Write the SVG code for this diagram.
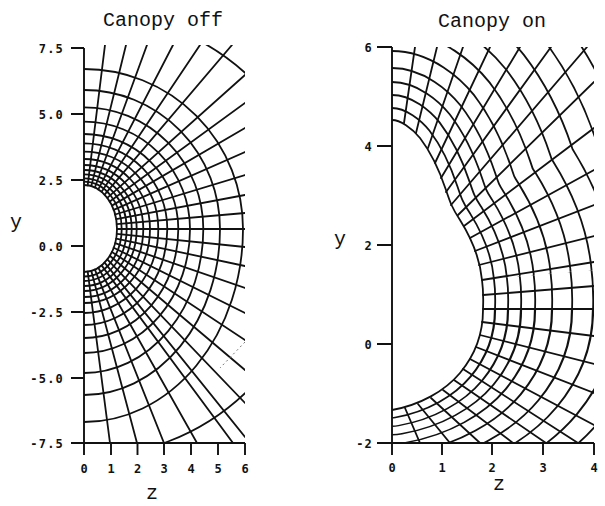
<svg xmlns="http://www.w3.org/2000/svg" width="605" height="506" viewBox="0 0 605 506">
<style>
.m{fill:none;stroke:#111;stroke-width:1.8;stroke-linecap:round;stroke-linejoin:round}
.ax{fill:none;stroke:#111;stroke-width:1.9}
.t{font-family:"Liberation Mono","DejaVu Sans Mono",monospace;font-size:20px;fill:#111}
.n{font-family:"DejaVu Sans Mono","Liberation Mono",monospace;font-size:12px;font-weight:bold;letter-spacing:1.2px;fill:#111}
.nx{font-family:"DejaVu Sans Mono","Liberation Mono",monospace;font-size:12px;font-weight:bold;fill:#111}
</style>
<defs>
<clipPath id="cL"><rect x="84" y="45" width="161" height="398"/></clipPath>
<clipPath id="cR"><rect x="392" y="47" width="202" height="396"/></clipPath>
<clipPath id="cU"><path clip-rule="evenodd" d="M392,47H594V310H392Z M392,120 C400,120 412,128 420,138 C430,151 440,172 446,190 C450,202 452,208 460,220 C470,236 480,258 482,280 C484,295 483,305 483,310 H392Z"/></clipPath>
<clipPath id="cD"><path clip-rule="evenodd" d="M392,310H594V443H392Z M483,310 C483,335 475,355 460,373 C445,391 420,405 392,410 V310Z"/></clipPath>
<path id="bR" d="M392,120 C400,120 412,128 420,138 C430,151 440,172 446,190 C450,202 452,208 460,220 C470,236 480,258 482,280 C484,295 483,305 483,310 C483,335 475,355 460,373 C445,391 420,405 392,410"/>
<path id="bP" d="M482,263.8 C484,279.2 483,294.6 483,310 C483,348.5 475,379.2 460,406.9 C445,434.6 420,456.2 392,463.8"/>
<mask id="mU" maskUnits="userSpaceOnUse" x="380" y="0" width="230" height="506">
<g fill="none" stroke-linecap="round" stroke-linejoin="round">
<use href="#bR" stroke="#fff" stroke-width="371.8"/><use href="#bR" stroke="#000" stroke-width="368.2"/>
<use href="#bR" stroke="#fff" stroke-width="317.8"/><use href="#bR" stroke="#000" stroke-width="314.2"/>
<use href="#bR" stroke="#fff" stroke-width="267.8"/><use href="#bR" stroke="#000" stroke-width="264.2"/>
<use href="#bR" stroke="#fff" stroke-width="221.8"/><use href="#bR" stroke="#000" stroke-width="218.2"/>
<use href="#bR" stroke="#fff" stroke-width="179.8"/><use href="#bR" stroke="#000" stroke-width="176.2"/>
<use href="#bR" stroke="#fff" stroke-width="139.8"/><use href="#bR" stroke="#000" stroke-width="136.2"/>
<use href="#bR" stroke="#fff" stroke-width="105.8"/><use href="#bR" stroke="#000" stroke-width="102.2"/>
<use href="#bR" stroke="#fff" stroke-width="77.8"/><use href="#bR" stroke="#000" stroke-width="74.2"/>
<use href="#bR" stroke="#fff" stroke-width="51.8"/><use href="#bR" stroke="#000" stroke-width="48.2"/>
<use href="#bR" stroke="#fff" stroke-width="25.8"/><use href="#bR" stroke="#000" stroke-width="22.2"/>
</g>
</mask>
<mask id="mD" maskUnits="userSpaceOnUse" x="380" y="0" width="230" height="506">
<g fill="none" stroke-linecap="round" stroke-linejoin="round" transform="matrix(1,0,0,0.65,0,108.5)">
<use href="#bP" stroke="#fff" stroke-width="318.2"/><use href="#bP" stroke="#000" stroke-width="313.8"/>
<use href="#bP" stroke="#fff" stroke-width="268.2"/><use href="#bP" stroke="#000" stroke-width="263.8"/>
<use href="#bP" stroke="#fff" stroke-width="222.2"/><use href="#bP" stroke="#000" stroke-width="217.8"/>
<use href="#bP" stroke="#fff" stroke-width="180.2"/><use href="#bP" stroke="#000" stroke-width="175.8"/>
<use href="#bP" stroke="#fff" stroke-width="140.2"/><use href="#bP" stroke="#000" stroke-width="135.8"/>
<use href="#bP" stroke="#fff" stroke-width="106.2"/><use href="#bP" stroke="#000" stroke-width="101.8"/>
<use href="#bP" stroke="#fff" stroke-width="78.2"/><use href="#bP" stroke="#000" stroke-width="73.8"/>
<use href="#bP" stroke="#fff" stroke-width="52.2"/><use href="#bP" stroke="#000" stroke-width="47.8"/>
<use href="#bP" stroke="#fff" stroke-width="26.2"/><use href="#bP" stroke="#000" stroke-width="21.8"/>
</g>
</mask>
</defs>
<rect width="605" height="506" fill="#fff"/>

<g id="plot-canopy-off">
<text class="t" x="163" y="26" text-anchor="middle">Canopy off</text>
<text class="t" x="16" y="228" text-anchor="middle">y</text>
<text class="t" x="152" y="499" text-anchor="middle">z</text>
<path class="ax" d="M84,48V443H245 M71,48H84 M71,114H84 M71,180H84 M71,246H84 M71,312H84 M71,378H84 M71,443H84 M84,443V455 M111,443V455 M137.5,443V455 M164,443V455 M191,443V455 M218,443V455 M245,443V455"/>
<g class="n" text-anchor="end">
<text x="64" y="52.5">7.5</text>
<text x="64" y="118.5">5.0</text>
<text x="64" y="184.5">2.5</text>
<text x="64" y="250.5">0.0</text>
<text x="64" y="316.5">-2.5</text>
<text x="64" y="382.5">-5.0</text>
<text x="64" y="447.5">-7.5</text>
</g>
<g class="nx" text-anchor="middle">
<text x="84" y="473">0</text><text x="111" y="473">1</text><text x="137.5" y="473">2</text><text x="164" y="473">3</text><text x="191" y="473">4</text><text x="218" y="473">5</text><text x="245" y="473">6</text>
</g>
<g clip-path="url(#cL)">
<path class="m" d="M84,185A33,44 0 0 1 117,229A33,43 0 0 1 84,272 M84,181.7A37.7,47.3 0 0 1 121.7,229A37.7,47.5 0 0 1 84,276.5 M84,178.3A42.7,50.7 0 0 1 126.7,229A42.7,52 0 0 1 84,281 M84,174.3A47.7,54.7 0 0 1 131.7,229A47.7,57 0 0 1 84,286 M84,170A52.7,59 0 0 1 136.7,229A52.7,62 0 0 1 84,291 M84,165A59.3,64 0 0 1 143.3,229A59.3,68 0 0 1 84,297 M84,159A66,70 0 0 1 150,229A66,74 0 0 1 84,303 M84,151.7A74.3,77.3 0 0 1 158.3,229A74.3,84 0 0 1 84,313 M84,143.3A83.3,85.7 0 0 1 167.3,229A83.3,96 0 0 1 84,325 M84,134A94.3,95 0 0 1 178.3,229A94.3,109 0 0 1 84,338 M84,121.7A106,107.3 0 0 1 190,229A106,124 0 0 1 84,353 M84,107.3A119.3,121.7 0 0 1 203.3,229A119.3,144 0 0 1 84,373 M84,90A136,139 0 0 1 220,229A136,166 0 0 1 84,395 M84,69A159,160 0 0 1 243,229A159,193 0 0 1 84,422 M84,12A232,217 0 0 1 316,229A232,228 0 0 1 84,457"/>
<path class="m" d="M87.7,185.3L105,45 M91.3,186.1L126,45 M94.9,187.5L147,45 M98.3,189.4L173,45 M101.6,191.7L200,45 M104.6,194.6L232,45 M107.3,197.9L245,75 M109.8,201.6L245,103 M111.9,205.6L245,128 M113.7,209.9L245,152 M115.1,214.5L245,175 M116.2,219.2L245,195 M116.8,224.1L245,213 M117,229L245,229 M116.8,233.8L245,247 M116.2,238.6L245,266 M115.1,243.2L245,288 M113.7,247.7L245,313 M111.9,251.9L245,340 M109.8,255.8L245,370 M107.3,259.4L245,403 M104.6,262.6L245,437 M101.6,265.4L233,443 M98.3,267.7L197,443 M94.9,269.6L164,443 M91.3,270.9L137,443 M87.7,271.7L110,443"/>
<path d="M245,342L220,368" fill="none" stroke="#777" stroke-width="1" stroke-dasharray="2 3"/>
</g>
</g>

<g id="plot-canopy-on">
<text class="t" x="492" y="27" text-anchor="middle">Canopy on</text>
<text class="t" x="340" y="245" text-anchor="middle">y</text>
<text class="t" x="499" y="490" text-anchor="middle">z</text>
<path class="ax" d="M392,47V443H594 M377,47H392 M377,146H392 M377,245H392 M377,344H392 M377,443H392 M392,443V455 M442,443V455 M492,443V455 M543,443V455 M594,443V455"/>
<g class="n" text-anchor="end">
<text x="373" y="51.5">6</text>
<text x="373" y="150.5">4</text>
<text x="373" y="249.5">2</text>
<text x="373" y="348.5">0</text>
<text x="373" y="447.5">-2</text>
</g>
<g class="nx" text-anchor="middle">
<text x="392" y="472">0</text><text x="442" y="472">1</text><text x="492" y="472">2</text><text x="543" y="472">3</text><text x="594" y="472">4</text>
</g>
<rect x="392" y="47" width="202" height="263" fill="#111" mask="url(#mU)" clip-path="url(#cU)"/>
<rect x="392" y="310" width="202" height="133" fill="#111" mask="url(#mD)" clip-path="url(#cD)"/>
<g clip-path="url(#cR)">
<use href="#bR" class="m"/>
<path class="m" d="M404,123L415,47 M416,133L437,47 M428,148L463,47 M435,163L490,47 M441,178L520,47 M446,192L551,47 M451,205L587,47 M458,215L594,82 M464,226L594,128 M470,238L594,170 M475,251L594,205 M479,265L594,236 M482,280L594,262 M483,295L594,286 M483,309L594,309 M482,322L594,336 M480,335L594,364 M476,347L594,393 M470,359L594,425 M463,369L578,443 M454,380L546,443 M443,390L513,443 M431,398L480,443 M418,404L450,443 M405,408L420,443"/>
</g>
</g>
</svg>
